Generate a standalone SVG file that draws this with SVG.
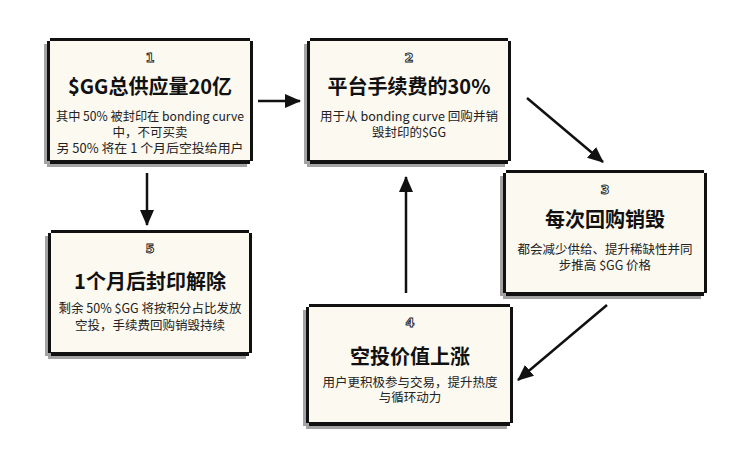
<svg xmlns="http://www.w3.org/2000/svg" width="748" height="458" viewBox="0 0 748 458">
<style>
.sh{fill:#a3a3a3}
.bd{fill:#111}
.in{fill:#fcf9f1}
.num{font-family:"DejaVu Sans",sans-serif;font-weight:bold;font-size:13px;fill:#fff;stroke:#222;stroke-width:0.9;text-anchor:middle}
.ttl{font-family:"Noto Sans CJK SC","Noto Sans",sans-serif;font-weight:bold;font-size:20px;fill:#111;text-anchor:middle}
.bod{font-family:"Noto Sans CJK SC","Noto Sans",sans-serif;font-size:12.5px;fill:#222;text-anchor:middle}
.ln{stroke:#111;stroke-width:2.5;fill:none;marker-end:url(#ah)}
</style>
<defs>
<marker id="ah" markerUnits="userSpaceOnUse" markerWidth="16" markerHeight="14" refX="15" refY="7" orient="auto">
<path d="M0,0 L16,7 L0,14 Z" fill="#111"/>
</marker>
</defs>
<rect width="748" height="458" fill="#fff"/>

<g id="node1">
<path class="sh" d="M47,41 H247 V44 H250 V164 H247 V167 H47 V164 H44 V44 H47 Z"/>
<path class="bd" d="M50,38 H250 V41 H253 V161 H250 V164 H50 V161 H47 V41 H50 Z"/>
<rect class="in" x="50" y="41" width="200" height="119"/>
<text class="num" x="150" y="62">1</text>
<text class="ttl" x="150" y="94">$GG总供应量20亿</text>
<text class="bod" x="150" y="121" textLength="188" lengthAdjust="spacingAndGlyphs">其中 50% 被封印在 bonding curve</text>
<text class="bod" x="150" y="137">中，不可买卖</text>
<text class="bod" x="150" y="153" textLength="187" lengthAdjust="spacingAndGlyphs">另 50% 将在 1 个月后空投给用户</text>
</g>

<g id="node2">
<path class="sh" d="M307,41 H505 V44 H508 V164 H505 V167 H307 V164 H304 V44 H307 Z"/>
<path class="bd" d="M310,38 H508 V41 H511 V161 H508 V164 H310 V161 H307 V41 H310 Z"/>
<rect class="in" x="310" y="41" width="198" height="119"/>
<text class="num" x="409" y="62">2</text>
<text class="ttl" x="409" y="94">平台手续费的30%</text>
<text class="bod" x="409" y="121" textLength="178" lengthAdjust="spacingAndGlyphs">用于从 bonding curve 回购并销</text>
<text class="bod" x="409" y="137">毁封印的$GG</text>
</g>

<g id="node3">
<path class="sh" d="M503,173 H701 V176 H704 V296 H701 V299 H503 V296 H500 V176 H503 Z"/>
<path class="bd" d="M506,170 H704 V173 H707 V293 H704 V296 H506 V293 H503 V173 H506 Z"/>
<rect class="in" x="506" y="173" width="198" height="119"/>
<text class="num" x="605" y="194">3</text>
<text class="ttl" x="605" y="227">每次回购销毁</text>
<text class="bod" x="605" y="254">都会减少供给、提升稀缺性并同</text>
<text class="bod" x="605" y="270">步推高 $GG 价格</text>
</g>

<g id="node4">
<path class="sh" d="M306,307 H507 V310 H510 V426 H507 V429 H306 V426 H303 V310 H306 Z"/>
<path class="bd" d="M309,304 H510 V307 H513 V423 H510 V426 H309 V423 H306 V307 H309 Z"/>
<rect class="in" x="309" y="307" width="201" height="115"/>
<text class="num" x="410" y="327">4</text>
<text class="ttl" x="410" y="364">空投价值上涨</text>
<text class="bod" x="410" y="387">用户更积极参与交易，提升热度</text>
<text class="bod" x="410" y="402">与循环动力</text>
</g>

<g id="node5">
<path class="sh" d="M48,233 H246 V236 H249 V356 H246 V359 H48 V356 H45 V236 H48 Z"/>
<path class="bd" d="M51,230 H249 V233 H252 V353 H249 V356 H51 V353 H48 V233 H51 Z"/>
<rect class="in" x="51" y="233" width="198" height="119"/>
<text class="num" x="150" y="253">5</text>
<text class="ttl" x="150" y="289">1个月后封印解除</text>
<text class="bod" x="150" y="313">剩余 50% $GG 将按积分占比发放</text>
<text class="bod" x="150" y="330">空投，手续费回购销毁持续</text>
</g>

<g id="connectors">
<line class="ln" x1="258" y1="101" x2="300" y2="101"/>
<line class="ln" x1="147" y1="173" x2="147" y2="225"/>
<line class="ln" x1="527" y1="98" x2="603" y2="162"/>
<line class="ln" x1="607" y1="305" x2="518" y2="380"/>
<line class="ln" x1="406" y1="293" x2="406" y2="177"/>
</g>
</svg>
